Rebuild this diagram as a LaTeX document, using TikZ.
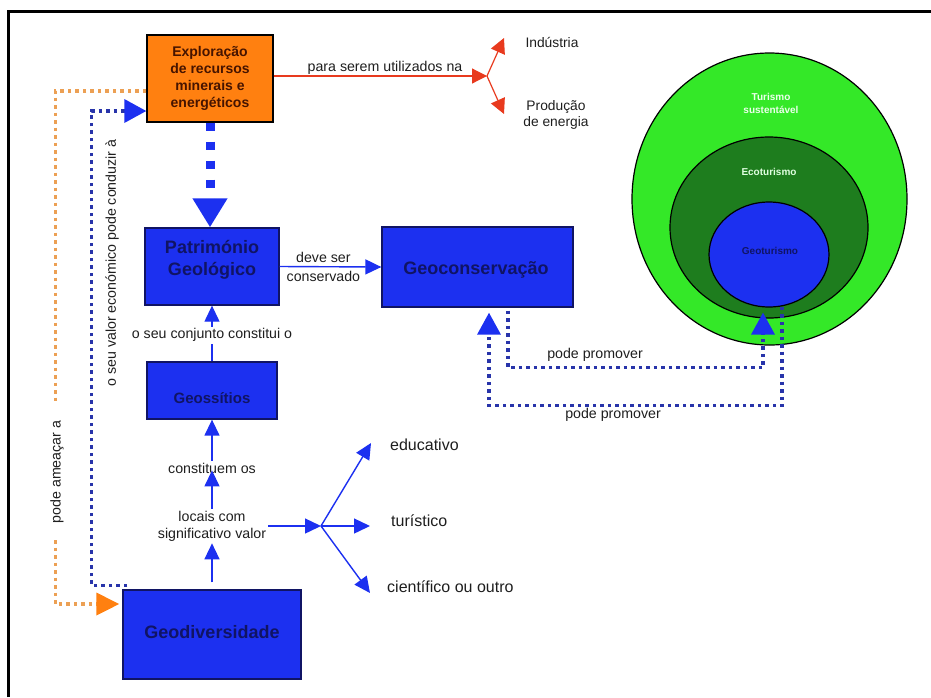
\documentclass[tikz,border=0pt]{standalone}
\usepackage{fontspec}
\setmainfont{Liberation Sans}
\usetikzlibrary{arrows.meta,shapes.geometric,calc}

\definecolor{boxblue}{RGB}{28,48,240}
\definecolor{navytext}{RGB}{16,20,100}
\definecolor{dotblue}{RGB}{40,52,170}
\definecolor{orangebox}{RGB}{255,128,16}
\definecolor{orangedot}{RGB}{236,160,84}
\definecolor{exptext}{RGB}{70,20,0}
\definecolor{arrred}{RGB}{232,58,30}
\definecolor{lightgreen}{RGB}{52,232,40}
\definecolor{darkgreen}{RGB}{30,125,30}
\definecolor{labeltext}{RGB}{30,30,30}

\tikzset{
  bluebox/.style={draw=navytext, line width=1.3pt, fill=boxblue, inner sep=0pt},
  boxtext/.style={text=navytext, font=\fontsize{18}{22}\selectfont\bfseries, align=center, inner sep=0pt},
  expbox/.style={draw=black, line width=1.3pt, fill=orangebox, text=exptext,
    font=\fontsize{14}{17}\selectfont\bfseries, align=center, inner sep=0pt},
  lbl/.style={text=labeltext, font=\fontsize{14.2}{17}\selectfont, inner sep=2pt},
  biglbl/.style={text=labeltext, font=\fontsize{16}{19}\selectfont, inner sep=0pt},
  ring/.style={ellipse, draw=black, line width=1.2pt, inner sep=0pt},
  ringtext/.style={font=\fontsize{10}{13}\selectfont\bfseries, align=center, inner sep=0pt},
  thinblue/.style={draw=boxblue, line width=1.4pt, -{Triangle[length=16pt,width=15pt]}},
  redarrow/.style={draw=arrred, line width=1.2pt, -{Triangle[length=15pt,width=15pt]}},
  thickdash/.style={draw=boxblue, line width=9pt, dash pattern=on 8pt off 11pt,
    -{Triangle[length=29pt,width=33pt]}},
  bluedots/.style={draw=dotblue, line width=3.5pt, dash pattern=on 3.5pt off 4pt},
  orangedots/.style={draw=orangedot, line width=3.5pt, dash pattern=on 3.5pt off 4pt},
  bluetip/.style={-{Triangle[length=22pt,width=23pt,color=boxblue]}},
  orangetip/.style={-{Triangle[length=23pt,width=22pt,color=orangebox]}},
}

\begin{document}
\begin{tikzpicture}[x=1pt,y=-1pt]
\useasboundingbox (0,0) rectangle (931,697);

% frame
\draw[line width=3pt] (8.5,697) -- (8.5,11.5) -- (931,11.5);

% tourism rings
\node[ring, fill=lightgreen, minimum width=275pt, minimum height=292pt] (turO) at (769.5,199) {};
\node[ring, fill=darkgreen, minimum width=198pt, minimum height=181pt] (eco) at (769,227.5) {};
\node[ring, fill=boxblue, minimum width=120pt, minimum height=105pt] (geot) at (769,254.5) {};
\node[ringtext, text=white!92!green] (turT) at (771,103.5) {Turismo\\sustentável};
\node[ringtext, text=white!88!green] (ecoT) at (769,172) {Ecoturismo};
\node[ringtext, text=navytext] (geotT) at (770,251) {Geoturismo};

% boxes
\node[expbox, minimum width=126pt, minimum height=87pt] (expl) at (210,78.5)
  {Exploração\\de recursos\\minerais e\\energéticos};
\node[bluebox, minimum width=134pt, minimum height=77pt] (patr) at (212,266.5) {};
\node[boxtext] (patrT) at (212,260) {Património\\Geológico};
\node[bluebox, minimum width=191pt, minimum height=80pt] (geoc) at (477.5,267) {};
\node[boxtext] (geocT) at (476,270) {Geoconservação};
\node[bluebox, minimum width=130pt, minimum height=57pt] (geoss) at (212,390.5) {};
\node[boxtext, font=\fontsize{15}{18}\selectfont\bfseries] (geossT) at (212,398) {Geossítios};
\node[bluebox, minimum width=178pt, minimum height=89pt] (geodiv) at (212,634.5) {};
\node[boxtext] (geodivT) at (212,632) {Geodiversidade};

% uses of the resources
\coordinate (rb) at (487,76);
\coordinate (tInd) at (504,38);
\coordinate (tProd) at (504,114);
\draw[redarrow] (expl.east |- rb) -- (rb);
\draw[redarrow] (rb) -- (tInd);
\draw[redarrow] (rb) -- (tProd);
\node[lbl] (paraT) at (385,68) {para serem utilizados na};
\node[lbl, font=\fontsize{13.8}{16}\selectfont] (ind) at (552,42) {Indústria};
\node[lbl, font=\fontsize{13.8}{16}\selectfont, align=center] (prod) at (556,115) {Produção\\de energia};

% main chain
\draw[thickdash] (expl.south) -- (expl.south |- patr.north);
\draw[thinblue] (patr.east) -- node[lbl, align=center, pos=0.43,
  font=\fontsize{14.2}{19}\selectfont] (deve) {deve ser\\conservado} (geoc.west);
\draw[thinblue, line width=1.2pt] (geoss.north) -- node[lbl, fill=white, pos=0.47] (conj)
  {o seu conjunto constitui o} (patr.south);

\node[lbl, align=center] (locais) at (212,526) {locais com\\significativo valor};
\node[lbl] (constit) at (212,468) {constituem os};
\draw[thinblue, shorten <=7pt] (geodiv.north) -- (locais.south);
\draw[thinblue, shorten >=-5pt] (locais.north) -- (constit.south);
\draw[thinblue] (constit.north) -- (geoss.south);

% kinds of value
\coordinate (br) at (321,526);
\coordinate (tEdu) at (371,443);
\coordinate (tTur) at (370,526);
\coordinate (tCien) at (370,593);
\draw[thinblue] (locais.east) -- (br);
\draw[thinblue] (br) -- (tEdu);
\draw[thinblue] (br) -- (tTur);
\draw[thinblue] (br) -- (tCien);
\node[biglbl, anchor=west] (educ) at (390,445) {educativo};
\node[biglbl, anchor=west] (turi) at (391,521) {turístico};
\node[biglbl, anchor=west] (cien) at (387,587) {científico ou outro};

% threat and economic value loops
\draw[orangedots, orangetip] ($(expl.west)+(0,12.5)$) -| ($(geodiv.west)+(-67,-30.5)$)
  -- ($(geodiv.west)+(-3,-30.5)$);
\node[lbl, rotate=90, fill=white, inner xsep=17pt, inner ysep=3pt] (ameaca) at (57,472) {pode ameaçar a};
\draw[bluedots, bluetip] ($(geodiv.north west)+(5,-4)$) -| ($(expl.west)+(-55,32.5)$)
  -- ($(expl.west)+(0,32.5)$);
\node[lbl, rotate=90] (valor) at (112,263) {o seu valor económico pode conduzir à};

% promotion loops
\draw[bluedots, bluetip] ($(geoc.south)+(30.5,3)$) |- ($(geot.south)+(-6,60)$)
  -- ($(geot.south)+(-6,5)$);
\draw[bluedots, bluetip] ($(geot.south)+(13,-1)$) |- ($(geoc.south)+(11.5,98)$)
  -- ($(geoc.south)+(11.5,5)$);
\node[lbl] (prom1) at (595,355) {pode promover};
\node[lbl] (prom2) at (613,415) {pode promover};
\end{tikzpicture}
\end{document}
